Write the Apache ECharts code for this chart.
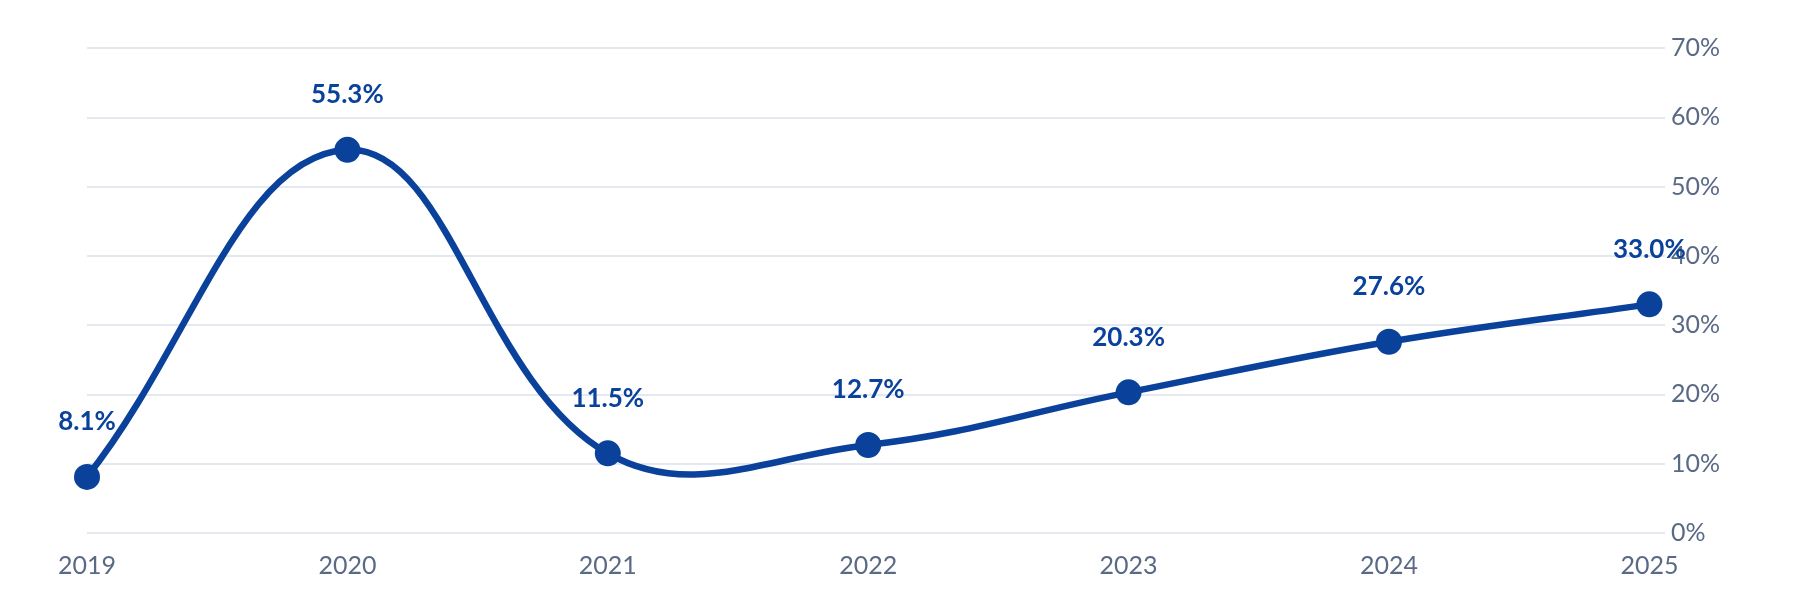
<!DOCTYPE html>
<html>
<head>
<meta charset="utf-8">
<script src="https://cdn.jsdelivr.net/npm/echarts@6/dist/echarts.min.js"></script>
<style>
  html, body { margin: 0; padding: 0; background: #fff; }
  #root { width: 1820px; height: 600px; }
</style>
</head>
<body>
<div id="root"></div>
<script>
var years = [2019, 2020, 2021, 2022, 2023, 2024, 2025];
var growth = [8.1, 55.3, 11.5, 12.7, 20.3, 27.6, 33.0];
var yTicks = { min: 0, max: 70, step: 10 };

var blue = '#0a419b';
var grey = '#5a6a86';
var tension = 0.4;

var chart = echarts.init(document.getElementById('root'));

var points = years.map(function (y, i) { return [y, growth[i]]; });

// cardinal spline (no clamping at peaks), control points from pixel coords
function splineSegment(api, i) {
	var p = points.map(function (d) { return api.coord(d); });
	var n = p.length;
	function cps(k) {
		var prev = p[Math.max(k - 1, 0)], cur = p[k], next = p[Math.min(k + 1, n - 1)];
		var d01 = Math.hypot(cur[0] - prev[0], cur[1] - prev[1]);
		var d12 = Math.hypot(next[0] - cur[0], next[1] - cur[1]);
		var s01 = d01 / (d01 + d12) || 0;
		var s12 = d12 / (d01 + d12) || 0;
		var vx = next[0] - prev[0], vy = next[1] - prev[1];
		return {
			before: [cur[0] - tension * s01 * vx, cur[1] - tension * s01 * vy],
			after: [cur[0] + tension * s12 * vx, cur[1] + tension * s12 * vy]
		};
	}
	var a = cps(i), b = cps(i + 1);
	return 'M' + p[i][0] + ',' + p[i][1] +
		'C' + a.after[0] + ',' + a.after[1] + ' ' + b.before[0] + ',' + b.before[1] + ' ' + p[i + 1][0] + ',' + p[i + 1][1];
}

chart.setOption({
	backgroundColor: '#fff',
	animation: false,
	grid: { left: 87, right: 155, top: 48, bottom: 67 },
	xAxis: {
		type: 'value',
		min: years[0],
		max: years[years.length - 1] + 0.06,
		interval: 1,
		axisLine: { show: false },
		axisTick: { show: false },
		splitLine: { show: false },
		axisLabel: {
			margin: 20,
			color: grey,
			fontFamily: 'Lato',
			fontSize: 25,
			formatter: function (v) { return v % 1 === 0 ? String(v) : ''; }
		}
	},
	yAxis: {
		type: 'value',
		position: 'right',
		min: yTicks.min,
		max: yTicks.max,
		interval: yTicks.step,
		axisLine: { show: false },
		axisTick: { show: false },
		splitLine: { lineStyle: { color: '#e4e8f1', width: 2 } },
		axisLabel: {
			margin: 6,
			color: grey,
			fontFamily: 'Lato',
			fontSize: 25,
			padding: [0, 0, 12, 0],
			formatter: '{value}%'
		}
	},
	series: [{
		type: 'custom',
		data: points,
		clip: false,
		silent: true,
		z: 1,
		renderItem: function (params, api) {
			var i = params.dataIndex;
			if (i >= points.length - 1) return null;
			return {
				type: 'path',
				shape: { pathData: splineSegment(api, i) },
				style: { fill: null, stroke: blue, lineWidth: 6.5, lineCap: 'round' }
			};
		}
	}, {
		type: 'line',
		data: points,
		z: 2,
		symbol: 'circle',
		symbolSize: 26,
		lineStyle: { width: 0, opacity: 0 },
		itemStyle: { color: blue },
		label: {
			show: true,
			position: 'top',
			distance: 29,
			color: blue,
			fontFamily: 'Lato',
			fontWeight: 'bold',
			fontSize: 26,
			formatter: function (p) { return p.value[1].toFixed(1) + '%'; }
		}
	}]
});
</script>
</body>
</html>
